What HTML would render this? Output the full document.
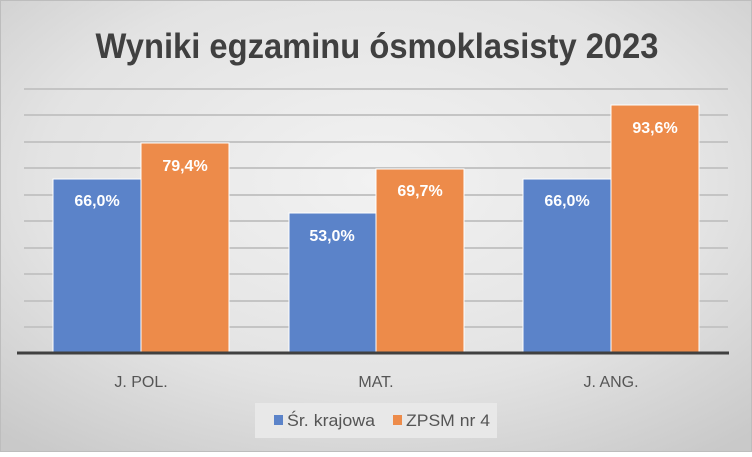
<!DOCTYPE html>
<html><head><style>
html,body{margin:0;padding:0;}
body{width:752px;height:452px;overflow:hidden;}
</style></head><body>
<svg width="752" height="452" xmlns="http://www.w3.org/2000/svg" font-family="Liberation Sans, DejaVu Sans, sans-serif">
<defs>
<radialGradient id="bg" cx="0.5" cy="0.4" r="0.75">
<stop offset="0" stop-color="#f2f2f2"/><stop offset="0.6" stop-color="#e3e3e3"/><stop offset="1" stop-color="#c9c9c9"/>
</radialGradient>
</defs>
<rect x="0" y="0" width="752" height="452" fill="url(#bg)"/>
<rect x="0.5" y="0.5" width="751" height="451" fill="none" stroke="#bdbdbd"/>
<text x="377" y="58" text-anchor="middle" font-size="35" font-weight="bold" fill="#404040" textLength="563" lengthAdjust="spacingAndGlyphs">Wyniki egzaminu ósmoklasisty 2023</text>
<g stroke="#c4c4c4" stroke-width="2">
<line x1="24" y1="89" x2="728" y2="89"/><line x1="24" y1="115" x2="728" y2="115"/>
<line x1="24" y1="142" x2="728" y2="142"/><line x1="24" y1="168" x2="728" y2="168"/>
<line x1="24" y1="195" x2="728" y2="195"/><line x1="24" y1="221" x2="728" y2="221"/>
<line x1="24" y1="248" x2="728" y2="248"/><line x1="24" y1="274" x2="728" y2="274"/>
<line x1="24" y1="301" x2="728" y2="301"/><line x1="24" y1="327" x2="728" y2="327"/>
</g>
<g stroke="#ffffff" stroke-width="1">
<rect x="53" y="179" width="88" height="174" fill="#5b83c9"/>
<rect x="141" y="143" width="88" height="210" fill="#ed8b4a"/>
<rect x="289" y="213" width="87" height="140" fill="#5b83c9"/>
<rect x="376" y="169" width="88" height="184" fill="#ed8b4a"/>
<rect x="523" y="179" width="88" height="174" fill="#5b83c9"/>
<rect x="611" y="105" width="88" height="248" fill="#ed8b4a"/>
</g>
<line x1="17" y1="353" x2="729" y2="353" stroke="#404040" stroke-width="3"/>
<g fill="#fff" font-size="16" font-weight="bold" text-anchor="middle">
<text x="97" y="206">66,0%</text><text x="185" y="171">79,4%</text>
<text x="332" y="241">53,0%</text><text x="420" y="196">69,7%</text>
<text x="567" y="206">66,0%</text><text x="655" y="133">93,6%</text>
</g>
<g fill="#555" font-size="16" text-anchor="middle">
<text x="141" y="387">J. POL.</text><text x="376" y="387">MAT.</text><text x="611" y="387">J. ANG.</text>
</g>
<rect x="255" y="403" width="242" height="35" fill="#e8e8e8"/>
<rect x="274" y="415" width="9" height="10" fill="#5b83c9"/>
<text x="287" y="426" font-size="17" fill="#555" textLength="88" lengthAdjust="spacingAndGlyphs">Śr. krajowa</text>
<rect x="393" y="415" width="9" height="10" fill="#ed8b4a"/>
<text x="406" y="426" font-size="17" fill="#555" textLength="84" lengthAdjust="spacingAndGlyphs">ZPSM nr 4</text>
</svg>
</body></html>
